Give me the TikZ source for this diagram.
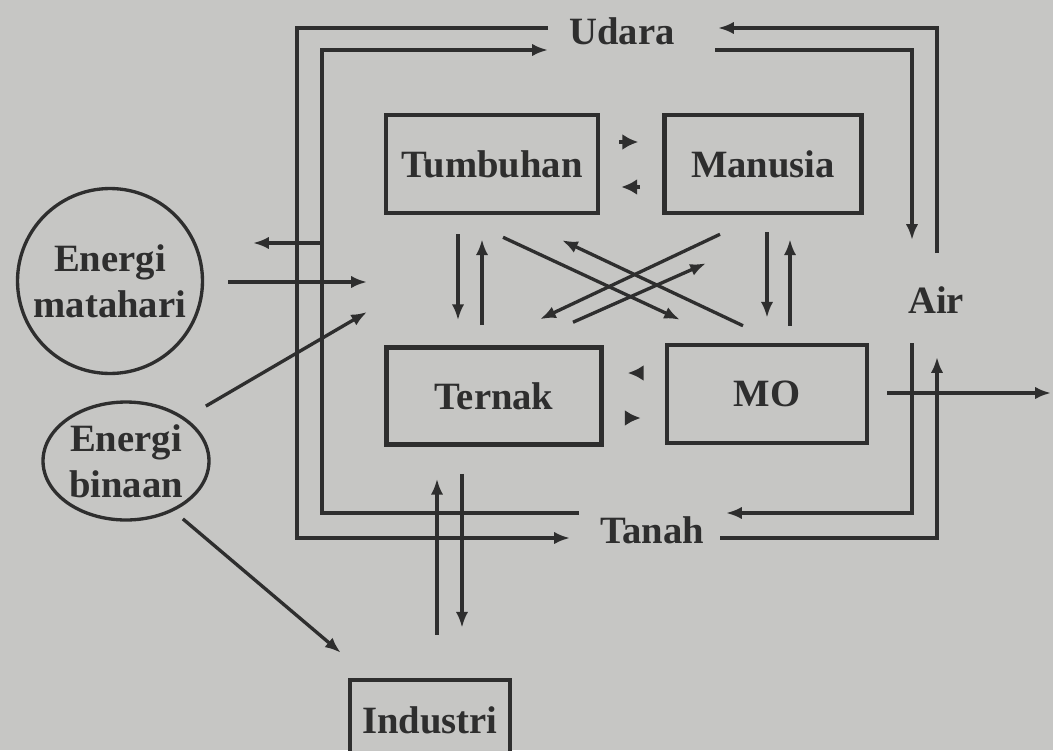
\documentclass[tikz,border=0pt]{standalone}
\usepackage{fontspec}
\setmainfont{Liberation Serif}
\usetikzlibrary{arrows.meta,shapes.geometric,calc}
\definecolor{paper}{RGB}{198,198,196}
\definecolor{ink}{RGB}{46,46,46}

\begin{document}
\begin{tikzpicture}[x=0.02cm,y=-0.02cm,>={Latex[length=9pt,width=7pt]},
  every node/.style={font=\fontsize{22}{26}\selectfont\bfseries,text=ink},
  box/.style={draw=ink,line width=2.6pt,fill=paper,inner sep=0pt},
  source/.style={draw=ink,line width=1.9pt,inner sep=0pt,align=center},
  cyc/.style={draw=ink,line width=2.2pt},
  link/.style={draw=ink,line width=1.9pt,->},
  tick/.style={draw=ink,line width=2pt,-{Latex[length=9pt,width=9pt]}}]
  % paper
  \fill[paper] (0,0) rectangle (1053,750);
  \useasboundingbox (0,0) rectangle (1053,750);
  % compartments
  \node[box,minimum width=4.24cm,minimum height=1.96cm] (tumb) at (492,164) {Tumbuhan};
  \node[box,minimum width=3.94cm,minimum height=1.96cm] (manu) at (763,164) {Manusia};
  \node[box,minimum width=4.30cm,minimum height=1.94cm] (tern) at (494,396) {Ternak};
  \node[box,minimum width=4.00cm,minimum height=1.96cm] (mo) at (767,394) {MO};
  \node[box,minimum width=3.20cm,minimum height=1.60cm] (indu) at (430,720) {Industri};
  % energy sources
  \node[source,circle,minimum size=3.7cm] (em) at (110,281) {Energi\\matahari};
  \node[source,ellipse,minimum width=3.32cm,minimum height=2.36cm] (eb) at (126,461) {Energi\\binaan};
  % pools
  \node (udara) at (622,31) {Udara};
  \node (tanah) at (652,530) {Tanah};
  \node (air) at (936,300) {Air};
  % loop ends and corners
  \coordinate (u1) at (548,28);  \coordinate (u2) at (548,50);
  \coordinate (u3) at (718,28);  \coordinate (u4) at (715,50);
  \coordinate (t1) at (579,513); \coordinate (t2) at (570,538);
  \coordinate (t3) at (726,513); \coordinate (t4) at (720,538);
  \coordinate (a1) at (912,240); \coordinate (a2) at (937,253);
  \coordinate (a3) at (912,343); \coordinate (a4) at (937,357);
  \coordinate (oL) at (297,300); \coordinate (iL) at (322,300);
  % udara <-> tanah
  \draw[cyc,->] (u1) -- (u1 -| oL) -- (oL |- t2) -- (t2);
  \draw[cyc,->] (t1) -- (t1 -| iL) -- (iL |- u2) -- (u2);
  % udara <-> air
  \draw[cyc,->] (a2) -- (a2 |- u3) -- (u3);
  \draw[cyc,->] (u4) -- (u4 -| a1) -- (a1);
  % air <-> tanah
  \draw[cyc,->] (a3) -- (a3 |- t3) -- (t3);
  \draw[cyc,->] (t4) -- (t4 -| a4) -- (a4);
  % between boxes
  \draw[tick] ($(tumb.east)+(19,-22)$) -- ($(manu.west)+(-24,-22)$);
  \draw[tick] ($(manu.west)+(-22,23)$) -- ($(tumb.east)+(21,23)$);
  \draw[tick] ($(mo.west)+(-22,-21)$) -- ($(tern.east)+(24,-23)$);
  \draw[tick] ($(tern.east)+(22,22)$) -- ($(mo.west)+(-24,24)$);
  \draw[link] ($(tumb.south)+(-34,19)$) -- ($(tern.north)+(-36,-25)$);
  \draw[link] ($(tern.north)+(-12,-20)$) -- ($(tumb.south)+(-10,24)$);
  \draw[link] ($(manu.south)+(4,17)$) -- ($(mo.north)+(0,-25)$);
  \draw[link] ($(mo.north)+(23,-17)$) -- ($(manu.south)+(27,24)$);
  % the cross
  \draw[link] ($(tumb.south)+(11,22)$) -- ($(mo.north)+(-87,-23)$);
  \draw[link] ($(mo.north)+(-24,-17)$) -- ($(tumb.south)+(70,25)$);
  \draw[link] ($(manu.south)+(-43,19)$) -- ($(tern.north)+(46,-26)$);
  \draw[link] ($(tern.north)+(79,-23)$) -- ($(manu.south)+(-57,48)$);
  % industri
  \draw[link] ($(indu.north)+(7,-43)$) -- ($(tern.south)+(-57,32)$);
  \draw[link] ($(tern.south)+(-32,27)$) -- ($(indu.north)+(32,-50)$);
  % energy in and out
  \coordinate (heat) at (253,243);
  \coordinate (sun) at (367,282);
  \coordinate (work) at (367,312);
  \coordinate (out) at (1051,393);
  \draw[link] (heat -| iL) -- (heat);
  \draw[link] ($(em.east)+(24,1)$) -- (sun);
  \draw[link] ($(eb.north east)+(20,-12)$) -- (work);
  \draw[link] ($(eb.south east)+(-3,15)$) -- ($(indu.north west)+(-7,-25)$);
  \draw[link] ($(mo.east)+(18,-1)$) -- (out);
\end{tikzpicture}
\end{document}
